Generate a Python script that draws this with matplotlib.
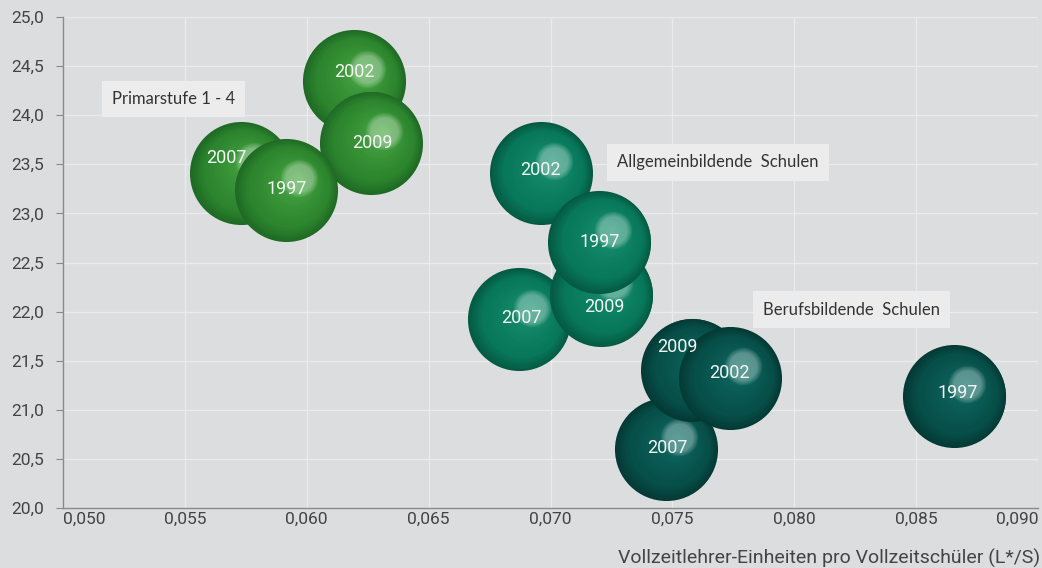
import numpy as np
import matplotlib
matplotlib.use('Agg')
import matplotlib.pyplot as plt
import matplotlib.transforms as mtransforms
from matplotlib.colors import to_rgb

# data
years = ['1997', '2002', '2007', '2009']

prim_x = [0.05915, 0.06192, 0.05732, 0.06262]
prim_y = [23.24, 24.35, 23.41, 23.72]

allg_x = [0.07201, 0.06959, 0.06871, 0.07209]
allg_y = [22.71, 23.41, 21.92, 22.17]

beruf_x = [0.08657, 0.07736, 0.07474, 0.07581]
beruf_y = [21.14, 21.32, 20.60, 21.41]

x_ticks = [0.050, 0.055, 0.060, 0.065, 0.070, 0.075, 0.080, 0.085, 0.090]
x_tick_labels = ['0,050', '0,055', '0,060', '0,065', '0,070', '0,075', '0,080', '0,085', '0,090']
y_ticks = [20.0, 20.5, 21.0, 21.5, 22.0, 22.5, 23.0, 23.5, 24.0, 24.5, 25.0]
y_tick_labels = ['20,0', '20,5', '21,0', '21,5', '22,0', '22,5', '23,0', '23,5', '24,0', '24,5', '25,0']

x_title = 'Vollzeitlehrer-Einheiten pro Vollzeitschüler (L*/S)'

# styling (edge, body, light) per series, drawing order, label nudges in px
BG = '#dcdddf'
GRID = '#ebebec'
green = ('#1f6a25', '#2d862e', '#4fae49')
teal = ('#045a43', '#08785b', '#1c9674')
dark = ('#043a35', '#074f49', '#10716a')

series = [
    (prim_x, prim_y, green, [1, 3, 2, 0],
     {'1997': (1, -1), '2002': (1, -9), '2007': (-15, -15), '2009': (2, 0)}),
    (allg_x, allg_y, teal, [2, 3, 1, 0],
     {'1997': (0, 0), '2002': (0, -3), '2007': (2, -1), '2009': (3, 12)}),
    (beruf_x, beruf_y, dark, [2, 3, 1, 0],
     {'1997': (3, -3), '2002': (-1, -5), '2007': (1, -1), '2009': (-15, -23)}),
]


def lerp(a, b, f):
    return a + (b - a) * f


def draw_bubble(ax, fig, x, y, colors):
    edge, body, light = [np.array(to_rgb(c)) for c in colors]
    R = 37.1          # radius in points
    hx, hy = 9.4, 8.6  # highlight offset in points
    n = 45
    for k in range(n):
        t = k / n
        if t < 0.22:
            col = lerp(edge, body, t / 0.22)
        else:
            col = lerp(body, light, ((t - 0.22) / 0.78) ** 1.3)
        off = mtransforms.ScaledTranslation(hx * t / 72, hy * t / 72, fig.dpi_scale_trans)
        ax.plot([x], [y], 'o', ms=2 * R * (1 - t), color=col, mec='none',
                transform=ax.transData + off, zorder=3)
    # soft highlight
    off = mtransforms.ScaledTranslation(hx / 72, hy / 72, fig.dpi_scale_trans)
    for r in np.linspace(13.5, 10, 5):
        ax.plot([x], [y], 'o', ms=2 * r, color='white', alpha=0.08, mec='none',
                transform=ax.transData + off, zorder=3)


fig = plt.figure(figsize=(10.42, 5.68), dpi=100, facecolor=BG)
ax = fig.add_axes([63 / 1042, 1 - 508 / 568, 975 / 1042, 491 / 568])
ax.set_facecolor(BG)

for xs, ys, colors, order, nudges in series:
    for i in order:
        draw_bubble(ax, fig, xs[i], ys[i], colors)
    for i in order:
        dx, dy = nudges[years[i]]
        ax.annotate(years[i], (xs[i], ys[i]), xytext=(dx * 0.72, -dy * 0.72),
                    textcoords='offset points', ha='center', va='center',
                    color='#f5f5f5', fontsize=13, family='Roboto', zorder=6)

box = dict(boxstyle='square,pad=0.62', fc='#ececed', ec='none')
ax.text(0.05201, 24.165, 'Primarstufe 1 - 4', family='Lato', fontsize=12,
        color='#333333', va='center', ha='left', bbox=box, zorder=7)
ax.text(0.07273, 23.52, 'Allgemeinbildende  Schulen', family='Lato', fontsize=12,
        color='#333333', va='center', ha='left', bbox=box, zorder=7)
ax.text(0.07872, 22.02, 'Berufsbildende  Schulen', family='Lato', fontsize=12,
        color='#333333', va='center', ha='left', bbox=box, zorder=7)

ax.set_xlim(0.050, 0.090)
ax.set_ylim(20.0, 25.0)
ax.set_xticks(x_ticks, x_tick_labels)
ax.set_yticks(y_ticks, y_tick_labels)
xl = ax.get_xticklabels()
xl[0].set_ha('left')
xl[-1].set_ha('right')
for lab in ax.get_xticklabels() + ax.get_yticklabels():
    lab.set_family('Roboto')
    lab.set_fontsize(12.5)
    lab.set_color('#444444')

ax.tick_params(axis='y', direction='out', length=5, color='#8a8a8a', pad=9)
ax.tick_params(axis='x', length=0, pad=3)
ax.grid(True, color=GRID, linewidth=1, zorder=0)
ax.set_axisbelow(True)
for s in ['top', 'right']:
    ax.spines[s].set_visible(False)
for s in ['left', 'bottom']:
    ax.spines[s].set_color('#8a8a8a')
    ax.spines[s].set_linewidth(1)

ax.set_xlabel(x_title, family='Roboto', fontsize=14,
              color='#444444', ha='right', va='center')
ax.xaxis.set_label_coords(1.0 + 2 / 975, -50 / 491)

fig.savefig('out.png', dpi=100, facecolor=BG)
